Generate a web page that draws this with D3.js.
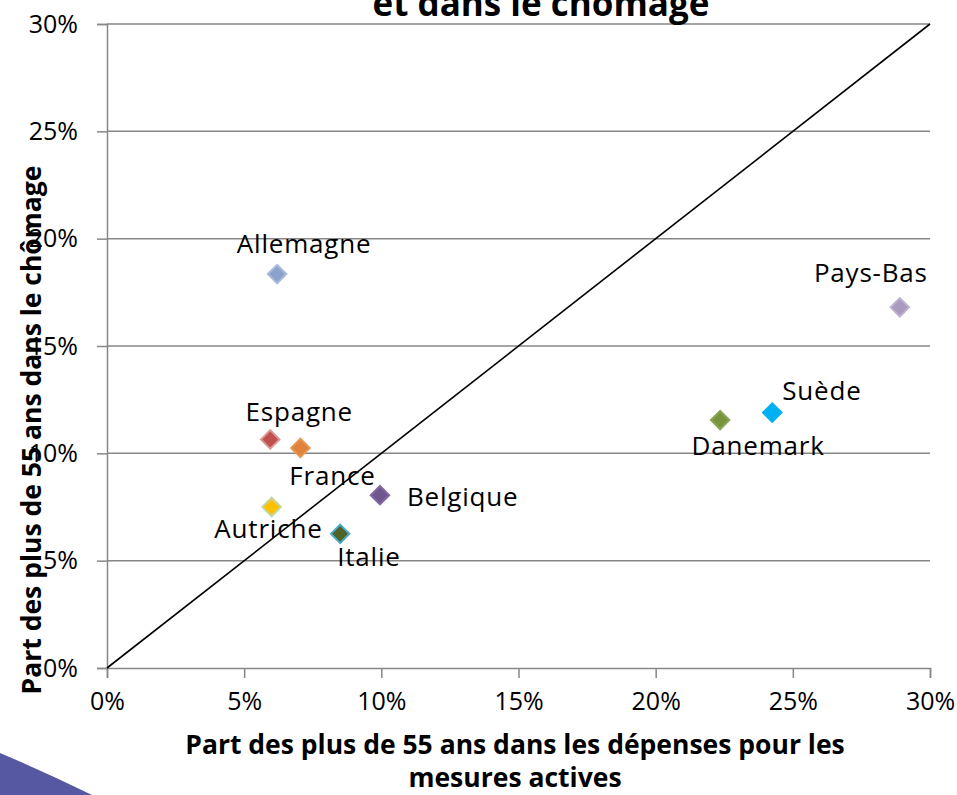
<!DOCTYPE html>
<html lang="fr">
<head>
<meta charset="UTF-8">
<title>Part des plus de 55 ans dans les mesures actives et dans le chômage</title>
<script src="https://d3js.org/d3.v7.min.js"></script>
<style>
    body { margin: 0; background: #fff; }
    svg { display: block; font-family: "Open Sans", "DejaVu Sans", sans-serif; }
    .tick-label { font-size: 25px; fill: #000; }
    .point-label { font-size: 26px; fill: #000; letter-spacing: 0.8px; }
    .axis-title { font-size: 26.5px; font-weight: bold; fill: #000; }
    .chart-title { font-size: 35px; font-weight: bold; fill: #000; }
</style>
</head>
<body>
<div id="chart"></div>
<script>
    // data (shares in %)
    var countries = ["Allemagne", "Pays-Bas", "Suède", "Danemark", "Espagne", "France", "Belgique", "Autriche", "Italie"];
    var activeShare = [6.2, 28.9, 24.25, 22.35, 5.95, 7.05, 9.95, 6.0, 8.5];
    var unemployedShare = [18.35, 16.8, 11.9, 11.55, 10.65, 10.25, 8.05, 7.5, 6.25];
    var tickValues = [0, 5, 10, 15, 20, 25, 30];
    var titleText = "et dans le chômage";
    var xTitleLines = ["Part des plus de 55 ans dans les dépenses pour les", "mesures actives"];
    var yTitleText = "Part des plus de 55 ans dans le chômage";

    // marker colours (fill, outline) and label placement
    var fills = ["#8ca2cb", "#a99bbe", "#00b0f0", "#77933c", "#c0504d", "#e0823a", "#6f5890", "#ffc000", "#4f6228"];
    var strokes = ["#a9badb", "#bdb2cf", "#00b0f0", "#8aa653", "#d99694", "#e8954f", "#7f69a0", "#c3d69b", "#4bacc6"];
    var labelPos = {
        "Allemagne": { dx: 27, dy: -21, anchor: "middle" },
        "Pays-Bas": { dx: 28, dy: -25, anchor: "end" },
        "Suède": { dx: 10, dy: -13, anchor: "start" },
        "Danemark": { dx: 38, dy: 35, anchor: "middle" },
        "Espagne": { dx: 29, dy: -18, anchor: "middle" },
        "France": { dx: 32, dy: 37, anchor: "middle" },
        "Belgique": { dx: 27, dy: 11, anchor: "start" },
        "Autriche": { dx: 51, dy: 31, anchor: "end" },
        "Italie": { dx: -3, dy: 32, anchor: "start" }
    };

    var width = 957, height = 795;
    var margin = { top: 24, right: 27, bottom: 127, left: 107 };
    var innerW = width - margin.left - margin.right,
        innerH = height - margin.top - margin.bottom;

    var x = d3.scaleLinear().domain([0, 30]).range([0, innerW]);
    var y = d3.scaleLinear().domain([0, 30]).range([innerH, 0]);

    var svg = d3.select("#chart").append("svg")
        .attr("width", width)
        .attr("height", height);

    // decorative slide swoosh in the lower left corner
    svg.append("path")
        .attr("d", "M0,753 Q45,772 92,795 L0,795 Z")
        .attr("fill", "#5659a2");

    var g = svg.append("g")
        .attr("transform", "translate(" + margin.left + "," + margin.top + ")");

    // horizontal gridlines
    g.selectAll(".grid")
        .data(tickValues.filter(function (d) { return d > 0; }))
        .enter().append("line")
        .attr("x1", 0).attr("x2", innerW)
        .attr("y1", function (d) { return y(d); })
        .attr("y2", function (d) { return y(d); })
        .attr("stroke", "#878787").attr("stroke-width", 1.5);

    // y axis
    var yAxis = g.append("g")
        .call(d3.axisLeft(y).tickValues(tickValues).tickSize(10).tickPadding(19)
            .tickFormat(function (d) { return d + "%"; }));
    yAxis.select(".domain").attr("stroke", "#878787").attr("stroke-width", 1.5);
    yAxis.selectAll(".tick line").attr("stroke", "#878787").attr("stroke-width", 1.5);
    yAxis.selectAll(".tick text").attr("class", "tick-label");
    yAxis.attr("font-size", null).attr("font-family", null);

    // x axis
    var xAxis = g.append("g")
        .attr("transform", "translate(0," + innerH + ")")
        .call(d3.axisBottom(x).tickValues(tickValues).tickSize(10).tickPadding(14)
            .tickFormat(function (d) { return d + "%"; }));
    xAxis.select(".domain").attr("stroke", "#878787").attr("stroke-width", 1.5);
    xAxis.selectAll(".tick line").attr("stroke", "#878787").attr("stroke-width", 1.5);
    xAxis.selectAll(".tick text").attr("class", "tick-label");
    xAxis.attr("font-size", null).attr("font-family", null);

    // diagonal reference line
    g.append("line")
        .attr("x1", x(0)).attr("y1", y(0))
        .attr("x2", x(30)).attr("y2", y(30))
        .attr("stroke", "#000").attr("stroke-width", 1.6);

    // markers
    var points = countries.map(function (c, i) {
        return { name: c, ax: activeShare[i], un: unemployedShare[i], fill: fills[i], stroke: strokes[i] };
    });

    g.selectAll(".pt")
        .data(points)
        .enter().append("path")
        .attr("d", d3.symbol().type(d3.symbolSquare).size(170))
        .attr("transform", function (d) {
            return "translate(" + x(d.ax) + "," + y(d.un) + ") rotate(45)";
        })
        .attr("fill", function (d) { return d.fill; })
        .attr("stroke", function (d) { return d.stroke; })
        .attr("stroke-width", 2);

    g.selectAll(".point-label")
        .data(points)
        .enter().append("text")
        .attr("class", "point-label")
        .attr("x", function (d) { return x(d.ax) + labelPos[d.name].dx; })
        .attr("y", function (d) { return y(d.un) + labelPos[d.name].dy; })
        .attr("text-anchor", function (d) { return labelPos[d.name].anchor; })
        .text(function (d) { return d.name; });

    // chart title (its upper part lies above the picture, as in the original)
    svg.append("text")
        .attr("class", "chart-title")
        .attr("x", 541).attr("y", 16)
        .attr("text-anchor", "middle")
        .text(titleText);

    // axis titles
    svg.selectAll(".xt")
        .data(xTitleLines)
        .enter().append("text")
        .attr("class", "axis-title")
        .attr("x", 515)
        .attr("y", function (d, i) { return 754 + i * 33; })
        .attr("text-anchor", "middle")
        .text(function (d) { return d; });

    svg.append("text")
        .attr("class", "axis-title")
        .attr("transform", "translate(41,430) rotate(-90)")
        .attr("text-anchor", "middle")
        .text(yTitleText);
</script>
</body>
</html>
